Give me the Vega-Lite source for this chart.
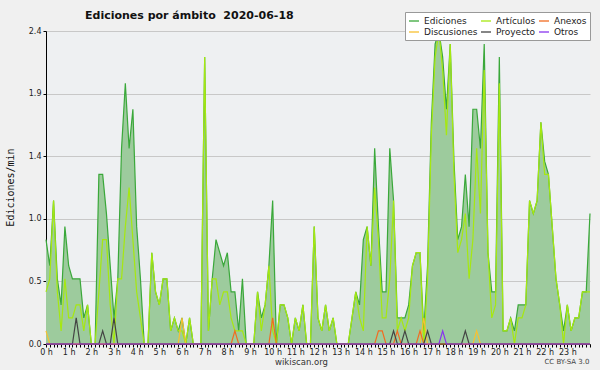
{
  "$schema": "https://vega.github.io/schema/vega-lite/v6.json",
  "width": 544,
  "height": 313,
  "autosize": "none",
  "padding": {"left": 46, "top": 31, "right": 10, "bottom": 26},
  "background": "#f0f0f0",
  "title": {
    "text": "Ediciones por ámbito\u00a0 2020-06-18",
    "anchor": "start",
    "frame": "group",
    "dx": 39,
    "offset": 0,
    "dy": 18,
    "baseline": "alphabetic",
    "font": "DejaVu Sans",
    "fontSize": 11,
    "fontWeight": "bold",
    "color": "#111111"
  },
  "config": {
    "view": {"fill": "#eef0f2", "stroke": null},
    "font": "DejaVu Sans"
  },
  "datasets": {
    "main": [
      {"m":0,"e":0.8,"a":0.4},{"m":10,"e":0.6,"a":0.5},{"m":20,"e":1.1,"a":1.1},{"m":30,"e":0.5,"a":0.4},
      {"m":40,"e":0.3,"a":0.1},{"m":50,"e":0.9,"a":0.5},{"m":60,"e":0.6,"a":0.2},{"m":70,"e":0.5,"a":0.2},
      {"m":80,"e":0.5,"a":0.3},{"m":90,"e":0.5,"a":0.3},{"m":100,"e":0.2,"a":0.1},{"m":110,"e":0.3,"a":0.3},
      {"m":120,"e":0,"a":0},{"m":130,"e":0,"a":0},{"m":140,"e":1.3,"a":0.4},{"m":150,"e":1.3,"a":0.8},
      {"m":160,"e":1.0,"a":0.8},{"m":170,"e":0.6,"a":0.3},{"m":180,"e":0.2,"a":0},{"m":190,"e":0.5,"a":0.5},
      {"m":200,"e":1.5,"a":0.5},{"m":210,"e":2.0,"a":0.9},{"m":220,"e":1.5,"a":1.2},{"m":230,"e":1.8,"a":0.8},
      {"m":240,"e":0.9,"a":0.4},{"m":250,"e":0.5,"a":0.2},{"m":260,"e":0,"a":0},{"m":270,"e":0,"a":0},
      {"m":280,"e":0.7,"a":0.7},{"m":290,"e":0.4,"a":0.4},{"m":300,"e":0.3,"a":0.3},{"m":310,"e":0.5,"a":0.5},
      {"m":320,"e":0.5,"a":0.5},{"m":330,"e":0.1,"a":0.1},{"m":340,"e":0.2,"a":0.2},{"m":350,"e":0.1,"a":0.1},
      {"m":360,"e":0.2,"a":0.1},{"m":370,"e":0,"a":0},{"m":380,"e":0.2,"a":0.2},{"m":390,"e":0,"a":0},
      {"m":400,"e":0,"a":0},{"m":410,"e":0,"a":0},{"m":420,"e":2.2,"a":2.2},{"m":430,"e":0.1,"a":0.1},
      {"m":440,"e":0.5,"a":0.5},{"m":450,"e":0.8,"a":0.5},{"m":460,"e":0.7,"a":0.3},{"m":470,"e":0.6,"a":0.4},
      {"m":480,"e":0.7,"a":0.4},{"m":490,"e":0.4,"a":0.2},{"m":500,"e":0.4,"a":0.1},{"m":510,"e":0.1,"a":0.1},
      {"m":520,"e":0.5,"a":0.1},{"m":530,"e":0,"a":0},{"m":540,"e":0,"a":0},{"m":550,"e":0,"a":0},
      {"m":560,"e":0.4,"a":0.4},{"m":570,"e":0.2,"a":0.1},{"m":580,"e":0.3,"a":0.3},{"m":590,"e":0.6,"a":0.6},
      {"m":600,"e":1.1,"a":0.1},{"m":610,"e":0,"a":0},{"m":620,"e":0.3,"a":0.3},{"m":630,"e":0.3,"a":0.3},
      {"m":640,"e":0.2,"a":0.2},{"m":650,"e":0,"a":0},{"m":660,"e":0.2,"a":0.2},{"m":670,"e":0.1,"a":0.1},
      {"m":680,"e":0.3,"a":0.3},{"m":690,"e":0,"a":0},{"m":700,"e":0,"a":0},{"m":710,"e":0.9,"a":0.9},
      {"m":720,"e":0.2,"a":0.2},{"m":730,"e":0.1,"a":0.1},{"m":740,"e":0.3,"a":0.3},{"m":750,"e":0.1,"a":0.1},
      {"m":760,"e":0.2,"a":0.2},{"m":770,"e":0,"a":0},{"m":780,"e":0,"a":0},{"m":790,"e":0,"a":0},
      {"m":800,"e":0,"a":0},{"m":810,"e":0.2,"a":0.2},{"m":820,"e":0.4,"a":0.4},{"m":830,"e":0.3,"a":0.2},
      {"m":840,"e":0.8,"a":0.1},{"m":850,"e":0.9,"a":0.9},{"m":860,"e":0.6,"a":0.6},{"m":870,"e":1.5,"a":1.2},
      {"m":880,"e":0.9,"a":0.8},{"m":890,"e":0.4,"a":0.2},{"m":900,"e":0.4,"a":0.2},{"m":910,"e":1.5,"a":0.5},
      {"m":920,"e":1.1,"a":1.1},{"m":930,"e":0.2,"a":0.1},{"m":940,"e":0.2,"a":0.2},{"m":950,"e":0.2,"a":0.1},
      {"m":960,"e":0.3,"a":0.2},{"m":970,"e":0.6,"a":0.6},{"m":980,"e":0.7,"a":0.7},{"m":990,"e":0.7,"a":0.7},
      {"m":1000,"e":0.1,"a":0},{"m":1010,"e":0.6,"a":0.5},{"m":1020,"e":1.7,"a":1.6},{"m":1030,"e":2.3,"a":2.2},
      {"m":1040,"e":2.4,"a":2.4},{"m":1050,"e":2.2,"a":2.1},{"m":1060,"e":1.8,"a":1.6},{"m":1070,"e":2.3,"a":2.3},
      {"m":1080,"e":1.4,"a":1.3},{"m":1090,"e":0.8,"a":0.7},{"m":1100,"e":0.9,"a":0.8},{"m":1110,"e":1.3,"a":1.0},
      {"m":1120,"e":0.9,"a":0.5},{"m":1130,"e":1.8,"a":0.8},{"m":1140,"e":1.8,"a":1.5},{"m":1150,"e":1.5,"a":1.0},
      {"m":1160,"e":2.3,"a":2.1},{"m":1170,"e":0.7,"a":0.7},{"m":1180,"e":0.4,"a":0.2},{"m":1190,"e":0.4,"a":0.3},
      {"m":1200,"e":2.2,"a":2.0},{"m":1210,"e":0.1,"a":0.1},{"m":1220,"e":0.1,"a":0.1},{"m":1230,"e":0.2,"a":0.2},
      {"m":1240,"e":0.1,"a":0},{"m":1250,"e":0.3,"a":0.2},{"m":1260,"e":0.3,"a":0.2},{"m":1270,"e":0.3,"a":0.3},
      {"m":1280,"e":1.1,"a":1.1},{"m":1290,"e":1.0,"a":1.0},{"m":1300,"e":1.1,"a":1.1},{"m":1310,"e":1.7,"a":1.7},
      {"m":1320,"e":1.4,"a":1.3},{"m":1330,"e":1.3,"a":1.3},{"m":1340,"e":0.9,"a":0.9},{"m":1350,"e":0.5,"a":0.5},
      {"m":1360,"e":0.3,"a":0.3},{"m":1370,"e":0.1,"a":0},{"m":1380,"e":0.3,"a":0.3},{"m":1390,"e":0.1,"a":0.1},
      {"m":1400,"e":0.2,"a":0.2},{"m":1410,"e":0.2,"a":0.2},{"m":1420,"e":0.4,"a":0.4},{"m":1430,"e":0.4,"a":0.4},
      {"m":1440,"e":1.0,"a":0.4}
    ],
    "minor": [
      {"m":0,"s":"Discusiones","v":0.1},{"m":10,"s":"Discusiones","v":0},{"m":350,"s":"Discusiones","v":0},
      {"m":360,"s":"Discusiones","v":0.2},{"m":370,"s":"Discusiones","v":0},{"m":990,"s":"Discusiones","v":0},
      {"m":1000,"s":"Discusiones","v":0.2},{"m":1010,"s":"Discusiones","v":0},{"m":1130,"s":"Discusiones","v":0},
      {"m":1140,"s":"Discusiones","v":0.1},{"m":1150,"s":"Discusiones","v":0},{"m":1440,"s":"Discusiones","v":0},
      {"m":0,"s":"Anexos","v":0},{"m":490,"s":"Anexos","v":0},{"m":500,"s":"Anexos","v":0.1},{"m":510,"s":"Anexos","v":0},
      {"m":590,"s":"Anexos","v":0},{"m":600,"s":"Anexos","v":0.2},{"m":610,"s":"Anexos","v":0},
      {"m":870,"s":"Anexos","v":0},{"m":880,"s":"Anexos","v":0.1},{"m":890,"s":"Anexos","v":0.1},{"m":900,"s":"Anexos","v":0},
      {"m":920,"s":"Anexos","v":0},{"m":930,"s":"Anexos","v":0.1},{"m":940,"s":"Anexos","v":0},
      {"m":980,"s":"Anexos","v":0},{"m":990,"s":"Anexos","v":0.1},{"m":1000,"s":"Anexos","v":0},{"m":1440,"s":"Anexos","v":0},
      {"m":0,"s":"Proyecto","v":0},{"m":70,"s":"Proyecto","v":0},{"m":80,"s":"Proyecto","v":0.2},{"m":90,"s":"Proyecto","v":0},
      {"m":140,"s":"Proyecto","v":0},{"m":150,"s":"Proyecto","v":0.1},{"m":160,"s":"Proyecto","v":0},
      {"m":170,"s":"Proyecto","v":0},{"m":180,"s":"Proyecto","v":0.2},{"m":190,"s":"Proyecto","v":0},
      {"m":910,"s":"Proyecto","v":0},{"m":920,"s":"Proyecto","v":0.1},{"m":930,"s":"Proyecto","v":0},
      {"m":940,"s":"Proyecto","v":0},{"m":950,"s":"Proyecto","v":0.1},{"m":960,"s":"Proyecto","v":0},
      {"m":1000,"s":"Proyecto","v":0},{"m":1010,"s":"Proyecto","v":0.1},{"m":1020,"s":"Proyecto","v":0},
      {"m":1100,"s":"Proyecto","v":0},{"m":1110,"s":"Proyecto","v":0.1},{"m":1120,"s":"Proyecto","v":0},{"m":1440,"s":"Proyecto","v":0},
      {"m":0,"s":"Otros","v":0},{"m":1040,"s":"Otros","v":0},{"m":1050,"s":"Otros","v":0.1},{"m":1060,"s":"Otros","v":0},{"m":1440,"s":"Otros","v":0}
    ]
  },
  "layer": [
    {
      "layer": [
        {
          "data": {"name": "main"},
          "mark": {"type": "area", "color": "#9dcb9d", "opacity": 1},
          "encoding": {
            "x": {
              "field": "m", "type": "quantitative",
              "scale": {"domain": [0, 1440], "nice": false, "zero": false},
              "axis": {
                "tickCount": 144,
                "labelExpr": "datum.value % 60 === 0 && datum.value < 1440 ? (datum.value / 60) + ' h' : ''",
                "labelOverlap": false, "labelFlush": false, "labelBound": false,
                "grid": false,
                "tickSize": 3, "tickColor": "#000000", "tickWidth": 1,
                "domainColor": "#000000", "domainWidth": 1,
                "labelFont": "DejaVu Sans", "labelFontSize": 8, "labelColor": "#222222", "labelPadding": 1,
                "title": "wikiscan.org", "titleX": 255, "titleY": 20,
                "titleAlign": "center", "titleBaseline": "alphabetic",
                "titleFont": "DejaVu Sans", "titleFontSize": 8.5, "titleFontWeight": "normal", "titleColor": "#333333"
              }
            },
            "y": {
              "field": "e", "type": "quantitative",
              "scale": {"domain": [0, 2.4], "nice": false},
              "axis": {
                "values": [0,0.12,0.24,0.36,0.48,0.6,0.72,0.84,0.96,1.08,1.2,1.32,1.44,1.56,1.68,1.8,1.92,2.04,2.16,2.28,2.4],
                "labelExpr": "abs(datum.value/0.48 - round(datum.value/0.48)) < 0.01 ? format(datum.value, '.1f') : ''",
                "labelOverlap": false, "labelFlush": false, "labelBound": false,
                "grid": true, "gridColor": "#c8c8c8", "gridWidth": 1,
                "gridOpacity": {"condition": {"test": "abs(datum.value/0.48 - round(datum.value/0.48)) < 0.01", "value": 1}, "value": 0},
                "tickSize": 3, "tickColor": "#000000",
                "domainColor": "#000000",
                "labelFont": "DejaVu Sans", "labelFontSize": 8, "labelColor": "#222222", "labelPadding": 2,
                "title": "Ediciones/min", "titleFont": "DejaVu Sans Mono", "titleFontSize": 10,
                "titleFontWeight": "normal", "titleColor": "#111111",
                "titleAngle": -90, "titleX": -36, "titleY": 156,
                "titleAlign": "center", "titleBaseline": "middle"
              }
            }
          }
        },
        {
          "data": {"name": "main"},
          "mark": {"type": "line", "strokeWidth": 1.2},
          "encoding": {
            "x": {"field": "m", "type": "quantitative"},
            "y": {"field": "e", "type": "quantitative"},
            "color": {
              "datum": "Ediciones", "type": "nominal", "title": null,
              "scale": {
                "domain": ["Ediciones", "Artículos", "Anexos", "Discusiones", "Proyecto", "Otros"],
                "range": ["#3aa83a", "#a6e810", "#f26b21", "#f8c030", "#444444", "#8833ee"]
              },
              "legend": {
                "orient": "none", "legendX": 359, "legendY": -19,
                "columns": 3, "direction": "horizontal",
                "title": null,
                "symbolType": "stroke", "symbolSize": 100, "symbolStrokeWidth": 1.3,
                "labelFont": "DejaVu Sans", "labelFontSize": 9, "labelColor": "#222222",
                "labelOffset": 4, "columnPadding": 0, "rowPadding": 0, "padding": 3,
                "fillColor": "#ffffff", "strokeColor": "#999999", "cornerRadius": 0, "labelLimit": 100
              }
            }
          }
        },
        {
          "data": {"name": "main"},
          "mark": {"type": "line", "strokeWidth": 1.2},
          "encoding": {
            "x": {"field": "m", "type": "quantitative"},
            "y": {"field": "a", "type": "quantitative"},
            "color": {"datum": "Artículos", "type": "nominal", "title": null}
          }
        }
      ]
    },
    {
      "data": {"name": "minor"},
      "mark": {"type": "line", "strokeWidth": 1.2},
      "encoding": {
        "x": {"field": "m", "type": "quantitative"},
        "y": {
          "field": "v", "type": "quantitative",
          "scale": {"domain": [0, 2.4], "nice": false},
          "axis": {
            "orient": "right", "domain": false, "ticks": false, "labels": false, "grid": false,
            "title": "CC BY-SA 3.0", "titleAngle": 0, "titleX": -1, "titleY": 332,
            "titleAlign": "right", "titleBaseline": "alphabetic",
            "titleFont": "DejaVu Sans", "titleFontSize": 7, "titleFontWeight": "normal", "titleColor": "#444444"
          }
        },
        "color": {"field": "s", "type": "nominal", "title": null}
      }
    }
  ],
  "resolve": {"scale": {"y": "independent"}}
}
